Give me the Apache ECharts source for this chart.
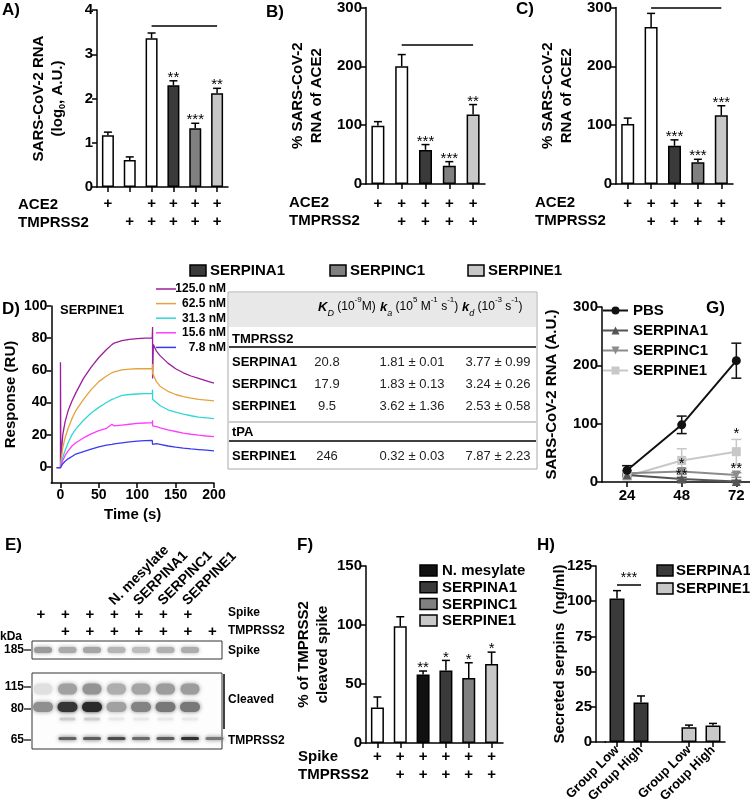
<!DOCTYPE html>
<html>
<head>
<meta charset="utf-8">
<script src="https://cdn.jsdelivr.net/npm/echarts@6/dist/echarts.min.js"></script>
<style>
html, body { margin: 0; background: #fff; }
#chart { width: 750px; height: 812px; }
</style>
</head>
<body>
<div id="chart"></div>
<script>
const FONT = '"Liberation Sans", Arial, Helvetica, sans-serif'
const W = '#ffffff', DARK = '#3a3a3a', MID = '#808080', LIGHT = '#c8c8c8', BLACK = '#111111'

// ---- A) log RNA ----
const aVal = [1.17, 0.61, 3.36, 2.3, 1.33, 2.12]
const aErr = [0.07, 0.07, 0.12, 0.1, 0.11, 0.11]
const aStars = ['', '', '', '**', '***', '**']
const aAce2 = ['+', '', '+', '+', '+', '+']
const aTmprss2 = ['', '+', '+', '+', '+', '+']
const aBracket = [2, 5, 3.64]

// ---- B) % of ACE2 ----
const bVal = [99, 200, 58, 31, 118]
const bErr = [7, 20, 9, 7, 17]
const bStars = ['', '', '***', '***', '**']
const bAce2 = ['+', '+', '+', '+', '+']
const bTmprss2 = ['', '+', '+', '+', '+']
const bBracket = [1, 4, 237]

// ---- C) % of ACE2 ----
const cVal = [102, 267, 65, 37, 117]
const cErr = [10, 23, 10, 5, 16]
const cStars = ['', '', '***', '***', '***']
const cAce2 = ['+', '+', '+', '+', '+']
const cTmprss2 = ['', '+', '+', '+', '+']
const cBracket = [1, 4, 300]

// ---- D) SPR sensorgram, SERPINE1 on TMPRSS2 ----
const dNames = ['125.0 nM', '62.5 nM', '31.3 nM', '15.6 nM', '7.8 nM']
const dColors = ['#9b1f9b', '#e3a43a', '#33d6d6', '#ff3cff', '#3a3af0']
const dTime = [-5, 0, 0, 0.5, 3, 6, 10, 15, 20, 30, 40, 50, 60, 67, 70, 80, 90, 100, 110, 119.5, 120, 120, 121, 125, 130, 140, 150, 160, 170, 180, 190, 200]
const d125 = [-0.5, -0.5, 65, 5, 20, 28, 35, 41, 46, 55, 62, 68, 73, 76, 77, 78.5, 79.3, 79.7, 80, 80, 87, 55, 76, 72, 69, 64.5, 61, 58.5, 56.5, 55, 53.5, 52]
const d62 = [-0.5, -0.5, 0, 3, 12, 18, 24, 30, 35, 42, 48, 53, 56.5, 58.5, 59, 60.3, 60.8, 61, 61, 61, 64, 58, 57, 53, 50, 47, 45, 43.7, 42.8, 42, 41.5, 41]
const d31 = [-0.5, -0.5, 0, 1.5, 6, 10, 15, 20, 23.5, 29, 33.5, 37, 40, 42, 42.5, 44.5, 45, 45.3, 45.5, 45.5, 48, 42, 43, 40, 38, 35.5, 34, 32.8, 31.8, 31, 30.5, 30]
const d15 = [-0.5, -0.5, 0, 1, 4, 7, 10, 13, 15, 18, 20.5, 22.5, 24, 26.5, 25.5, 26, 26.5, 27, 27.3, 27.5, 29, 25.5, 26, 25, 24.3, 23, 22, 21, 20.3, 19.7, 19.2, 18.8]
const d7 = [-0.5, -0.5, 0, 0.5, 2, 3.5, 5, 6.5, 8, 9.5, 11, 12.5, 13.5, 14, 14.3, 15, 15.5, 16, 16.3, 16.5, 17.5, 14, 15, 14.5, 14, 13, 12.3, 11.7, 11.2, 10.8, 10.4, 10]
const dSeries = [d125, d62, d31, d15, d7]

// ---- D) kinetics table ----
const tblHead = ['{i|K}{s|D} (10{u|-9}M)', '{i|k}{s|a} (10{u|5} M{u|-1} s{u|-1})', '{i|k}{s|d} (10{u|-3} s{u|-1})']
const tblNames = ['SERPINA1', 'SERPINC1', 'SERPINE1', 'SERPINE1']
const tblKD = ['20.8', '17.9', '9.5', '246']
const tblKa = ['1.81 ± 0.01', '1.83 ± 0.13', '3.62 ± 1.36', '0.32 ± 0.03']
const tblKd = ['3.77 ± 0.99', '3.24 ± 0.26', '2.53 ± 0.58', '7.87 ± 2.23']

// ---- E) western blot ----
const eLaneNames = ['', '', '', 'N. mesylate', 'SERPINA1', 'SERPINC1', 'SERPINE1', '']
const eSpike = ['+', '+', '+', '+', '+', '+', '+', '']
const eTmprss2 = ['', '+', '+', '+', '+', '+', '+', '+']
const eBandSpike = [0.45, 0.38, 0.4, 0.33, 0.3, 0.35, 0.37, 0]
const eBand115 = [0.14, 0.42, 0.48, 0.36, 0.4, 0.44, 0.44, 0]
const eBand80 = [0.5, 0.9, 0.95, 0.42, 0.55, 0.6, 0.6, 0]
const eBand75 = [0, 0.22, 0.22, 0.1, 0.1, 0.1, 0.1, 0]
const eBand65 = [0, 0.7, 0.72, 0.8, 0.66, 0.72, 0.92, 0.6]

// ---- F) cleaved spike ----
const fVal = [30, 99, 58, 61.5, 55, 67]
const fErr = [9, 8, 3, 8.5, 13, 10]
const fStars = ['', '', '**', '*', '*', '*']
const fSpike = ['+', '+', '+', '+', '+', '+']
const fTmprss2 = ['', '+', '+', '+', '+', '+']
const fLegend = ['N. mesylate', 'SERPINA1', 'SERPINC1', 'SERPINE1']

// ---- G) time course ----
const gHours = [24, 48, 72]
const gNames = ['PBS', 'SERPINA1', 'SERPINC1', 'SERPINE1']
const gPBS = [20, 98, 208]
const gA1 = [12, 5, 1]
const gC1 = [15, 18, 12]
const gE1 = [10, 37, 52]
const gErrPBS = [8, 15, 30]
const gErrA1 = [3, 3, 2]
const gErrC1 = [4, 5, 4]
const gErrE1 = [5, 20, 21]
const gStarX = [48, 48, 72, 72]
const gStarY = [31, 12, 82, 22]
const gStarTxt = ['*', '**', '*', '**']

// ---- H) secreted serpins ----
const hCats = ['Group Low', 'Group High', '', 'Group Low', 'Group High']
const hVal = [102, 28, null, 10.5, 11.7]
const hErr = [5.5, 4.7, null, 1.5, 1.5]
const hLegend = ['SERPINA1', 'SERPINE1']
const hBracket = [0, 1, 111.5]

const chart = echarts.init(document.getElementById('chart'))
const grid = [], xAxis = [], yAxis = [], series = [], graphic = []

const axisLine = { show: true, onZero: false, lineStyle: { color: '#000', width: 1.5 } }
const axisTick = { show: true, length: 5, lineStyle: { color: '#000', width: 1.5 } }
const boldLabel = { color: '#000', fontFamily: FONT, fontWeight: 'bold', fontSize: 15 }
const nameStyle = { color: '#000', fontFamily: FONT, fontWeight: 'bold', fontSize: 15, lineHeight: 19 }

function text(x, y, t, opt) {
  graphic.push({ type: 'text', x, y, silent: true,
    style: Object.assign({ text: t, font: 'bold 15px ' + FONT, fill: '#000', verticalAlign: 'middle' }, opt || {}) })
}
function line(x1, y1, x2, y2, color, w) {
  graphic.push({ type: 'line', silent: true, shape: { x1, y1, x2, y2 }, style: { stroke: color || '#000', lineWidth: w || 1.5 } })
}
function box(x, y, w, h, fill) {
  graphic.push({ type: 'rect', silent: true, shape: { x, y, width: w, height: h }, style: { fill, stroke: '#000', lineWidth: 1.5 } })
}

function errSeries(k, xs, val, err, opt) {
  opt = opt || {}
  const data = []
  val.forEach((v, i) => { if (v != null) data.push([xs[i], v, err[i], i]) })
  return {
    type: 'custom', xAxisIndex: k, yAxisIndex: k, z: 4, silent: true, data,
    renderItem(params, api) {
      const x = api.value(0), v = api.value(1), e = api.value(2), i = api.value(3)
      const hi = api.coord([x, v + e])
      const lo = api.coord([x, opt.both ? v - e : v])
      const c = opt.cap || 4
      const st = { stroke: opt.color || '#000', lineWidth: 1.5 }
      const kids = [
        { type: 'line', shape: { x1: hi[0], y1: hi[1], x2: lo[0], y2: lo[1] }, style: st },
        { type: 'line', shape: { x1: hi[0] - c, y1: hi[1], x2: hi[0] + c, y2: hi[1] }, style: st }
      ]
      if (opt.both) kids.push({ type: 'line', shape: { x1: lo[0] - c, y1: lo[1], x2: lo[0] + c, y2: lo[1] }, style: st })
      const s = opt.stars && opt.stars[i]
      if (s) kids.push({ type: 'text', style: { text: s, x: hi[0], y: hi[1] - 3, align: 'center', verticalAlign: 'middle', font: '15px ' + FONT, fill: '#000' } })
      return { type: 'group', children: kids }
    }
  }
}

function bracket(b, label) {
  return {
    silent: true, symbol: ['none', 'none'], animation: false,
    lineStyle: { color: '#000', width: 1.5, type: 'solid' },
    label: label ? { show: true, position: 'insideMiddleTop', distance: 0, formatter: label, color: '#000', fontSize: 14, fontFamily: FONT } : { show: false },
    emphasis: { disabled: true },
    data: [[{ coord: [b[0], b[2]] }, { coord: [b[1], b[2]] }]]
  }
}

// bar panel with +/- rows underneath
function barPanel(o) {
  const k = grid.length
  grid.push({ left: o.left, top: o.top, width: o.width, height: o.height })
  const cats = o.cats || o.val.map((_, i) => String(i))
  xAxis.push({
    type: 'category', gridIndex: k, data: cats, axisLine,
    axisTick: Object.assign({ alignWithLabel: true, interval: o.tickInterval || 0 }, axisTick),
    axisLabel: Object.assign({ interval: 0, margin: o.margin, lineHeight: 18, rotate: o.rotate || 0 }, boldLabel, o.labelStyle || {},
      o.rows ? { formatter: (v, i) => o.rows.map(r => r[i] || ' ').join('\n') } : {})
  })
  yAxis.push({
    type: 'value', gridIndex: k, min: 0, max: o.max, interval: o.interval, offset: o.yOffset || 0,
    name: o.name, nameLocation: 'middle', nameGap: o.nameGap, nameRotate: 90, nameMoveOverlap: false,
    nameTextStyle: Object.assign({}, nameStyle, o.nameRich ? { rich: o.nameRich } : {}),
    axisLine, axisTick, splitLine: { show: false },
    axisLabel: Object.assign({ margin: 4 }, boldLabel)
  })
  series.push({
    type: 'bar', xAxisIndex: k, yAxisIndex: k, barWidth: o.barWidth || 13, silent: true,
    data: o.val.map((v, i) => ({ value: v == null ? '-' : v, itemStyle: { color: o.fills[i] } })),
    itemStyle: { borderColor: '#000', borderWidth: 1.5 },
    markLine: o.bracket ? bracket(o.bracket, o.bracketLabel) : undefined
  })
  series.push(errSeries(k, o.val.map((_, i) => i), o.val, o.err, { stars: o.stars }))
}

// ---------- A ----------
barPanel({ left: 97, top: 10, width: 131, height: 177, max: 4, interval: 1,
  val: aVal, err: aErr, stars: aStars, fills: [W, W, W, DARK, MID, LIGHT],
  rows: [aAce2, aTmprss2], margin: 8, barWidth: 12, bracket: aBracket,
  name: 'SARS-CoV-2 RNA\n(log{s|0}, A.U.)', nameGap: 30,
  nameRich: { s: { fontSize: 9, fontWeight: 'bold', fontFamily: FONT, color: '#000', verticalAlign: 'bottom', lineHeight: 14 } } })
text(2, 10, 'A)', { font: 'bold 17px ' + FONT })
text(18, 205, 'ACE2'); text(18, 223, 'TMPRSS2')

// ---------- B ----------
barPanel({ left: 366, top: 7, width: 119, height: 177, max: 300, interval: 100,
  val: bVal, err: bErr, stars: bStars, fills: [W, W, DARK, MID, LIGHT],
  rows: [bAce2, bTmprss2], margin: 11, bracket: bBracket,
  name: '% SARS-CoV-2\nRNA of ACE2', nameGap: 40 })
text(266, 12, 'B)', { font: 'bold 17px ' + FONT })
text(289, 203, 'ACE2'); text(289, 221, 'TMPRSS2')

// ---------- C ----------
barPanel({ left: 616, top: 7, width: 117, height: 177, max: 300, interval: 100,
  val: cVal, err: cErr, stars: cStars, fills: [W, W, DARK, MID, LIGHT],
  rows: [cAce2, cTmprss2], margin: 11, bracket: cBracket,
  name: '% SARS-CoV-2\nRNA of ACE2', nameGap: 40 })
text(516, 9, 'C)', { font: 'bold 17px ' + FONT })
text(535, 203, 'ACE2'); text(535, 221, 'TMPRSS2')

// shared legend for A-C
;[['SERPINA1', DARK, 190], ['SERPINC1', MID, 330], ['SERPINE1', LIGHT, 468]].forEach(([n, c, x]) => {
  box(x, 265, 16, 11, c); text(x + 20, 271, n)
})

// ---------- D ----------
const kD = grid.length
grid.push({ left: 42, top: 306, width: 172, height: 177 })
xAxis.push({ type: 'value', gridIndex: kD, min: -12, max: 200, axisLine,
  axisTick: Object.assign({ customValues: [0, 50, 100, 150, 200] }, axisTick),
  axisLabel: Object.assign({ customValues: [0, 50, 100, 150, 200], margin: 5 }, boldLabel, { fontSize: 14 }),
  splitLine: { show: false },
  name: 'Time (s)', nameLocation: 'middle', nameGap: 22, nameTextStyle: nameStyle })
yAxis.push({ type: 'value', gridIndex: kD, min: -10, max: 100, axisLine,
  axisTick: Object.assign({ customValues: [0, 20, 40, 60, 80, 100] }, axisTick),
  axisLabel: Object.assign({ customValues: [0, 20, 40, 60, 80, 100], margin: 4 }, boldLabel, { fontSize: 14 }),
  splitLine: { show: false },
  name: 'Response (RU)', nameLocation: 'middle', nameGap: 24, nameRotate: 90, nameTextStyle: nameStyle })
dSeries.forEach((vals, s) => {
  series.push({ type: 'line', name: dNames[s], xAxisIndex: kD, yAxisIndex: kD, symbol: 'none', silent: true,
    color: dColors[s], lineStyle: { width: 1.3, color: dColors[s] },
    data: dTime.map((t, i) => [t, vals[i]]) })
})
text(2, 309, 'D)', { font: 'bold 17px ' + FONT })
text(60, 310, 'SERPINE1', { font: 'bold 13px ' + FONT })
const dLegend = { data: dNames, orient: 'vertical', left: 151, top: 278, itemWidth: 20, itemHeight: 8, itemGap: 2.6,
  itemTextGap: 3, selectedMode: false, formatter: '{r|{name}}', icon: 'path://M0,0 L40,0 L40,3 L0,3 Z',
  textStyle: { rich: { r: { width: 45, align: 'right', fontSize: 12, fontWeight: 'bold', fontFamily: FONT, color: '#000', lineHeight: 12 } } } }

// table
const tx0 = 228, tx1 = 537
graphic.push({ type: 'rect', silent: true, shape: { x: tx0, y: 292, width: tx1 - tx0, height: 177 }, style: { fill: '#fff', stroke: '#aaa', lineWidth: 1 } })
graphic.push({ type: 'rect', silent: true, shape: { x: tx0 + 1, y: 293, width: tx1 - tx0 - 2, height: 34 }, style: { fill: '#e8e8e8' } })
const tblRich = {
  i: { fontStyle: 'italic', fontWeight: 'bold', fontSize: 13, fontFamily: FONT, lineHeight: 18 },
  s: { fontStyle: 'italic', fontSize: 9, fontFamily: FONT, verticalAlign: 'bottom', lineHeight: 14 },
  u: { fontSize: 8, fontFamily: FONT, verticalAlign: 'top', lineHeight: 22 }
}
;[318, 380, 462].forEach((x, i) => text(x, 307, tblHead[i], { font: '12px ' + FONT, rich: tblRich }))
text(232, 339, 'TMPRSS2', { font: 'bold 13px ' + FONT })
line(tx0 + 1, 347, tx1 - 1, 347, '#000', 1.5)
line(tx0 + 1, 422, tx1 - 1, 422, '#999', 1.2)
text(232, 432, 'tPA', { font: 'bold 13px ' + FONT })
line(tx0 + 1, 441, tx1 - 1, 441, '#000', 1.5)
;[362, 384, 406, 456].forEach((y, r) => {
  text(232, y, tblNames[r], { font: 'bold 13px ' + FONT })
  text(327, y, tblKD[r], { font: '13px ' + FONT, align: 'center', fill: '#222' })
  text(412, y, tblKa[r], { font: '13px ' + FONT, align: 'center', fill: '#222' })
  text(498, y, tblKd[r], { font: '13px ' + FONT, align: 'center', fill: '#222' })
})

// ---------- G ----------
const kG = grid.length
grid.push({ left: 602, top: 307, width: 148, height: 175 })
xAxis.push({ type: 'value', gridIndex: kG, min: 13, max: 78, axisLine,
  axisTick: Object.assign({ customValues: gHours }, axisTick),
  axisLabel: Object.assign({ customValues: gHours, margin: 6 }, boldLabel), splitLine: { show: false } })
yAxis.push({ type: 'value', gridIndex: kG, min: 0, max: 300, interval: 100, axisLine, axisTick,
  axisLabel: Object.assign({ margin: 4 }, boldLabel), splitLine: { show: false },
  name: 'SARS-CoV-2 RNA (A.U.)', nameLocation: 'middle', nameGap: 41, nameRotate: 90, nameTextStyle: nameStyle })
const gDef = [
  [gPBS, gErrPBS, '#111111', 'circle'],
  [gA1, gErrA1, '#555555', 'triangle'],
  [gC1, gErrC1, '#8c8c8c', 'path://M0,0 L10,0 L5,9 Z'],
  [gE1, gErrE1, '#c8c8c8', 'rect']
]
gDef.slice().reverse().forEach(([vals, err, c, sym], r) => {
  const s = gDef.length - 1 - r
  series.push(errSeries(kG, gHours, vals, err, { both: true, color: c, cap: 5 }))
  series.push({ type: 'line', name: gNames[s], xAxisIndex: kG, yAxisIndex: kG, symbol: sym, symbolSize: 9,
    silent: true, color: c, itemStyle: { color: c }, lineStyle: { color: c, width: 2 }, z: 5,
    data: gHours.map((h, i) => [h, vals[i]]) })
})
series.push({ type: 'custom', xAxisIndex: kG, yAxisIndex: kG, silent: true, z: 6,
  data: gStarX.map((x, i) => [x, gStarY[i], i]),
  renderItem(params, api) {
    const p = api.coord([api.value(0), api.value(1)])
    return { type: 'text', style: { text: gStarTxt[api.value(2)], x: p[0], y: p[1], align: 'center', verticalAlign: 'middle', font: '15px ' + FONT, fill: '#000' } }
  } })
text(706, 308, 'G)', { font: 'bold 17px ' + FONT })
const gLegend = { data: gNames, orient: 'vertical', left: 597, top: 298, itemWidth: 25, itemHeight: 10, itemGap: 5,
  itemTextGap: 9, selectedMode: false, textStyle: { fontSize: 15, fontWeight: 'bold', fontFamily: FONT, color: '#000' } }

// ---------- E (blot) ----------
text(5, 545, 'E)', { font: 'bold 17px ' + FONT })
const laneX = i => 41 + i * 24.5
eLaneNames.forEach((n, i) => {
  if (n) graphic.push({ type: 'text', x: laneX(i) + 2, y: 608, rotation: Math.PI / 4, silent: true,
    style: { text: n, font: 'bold 14px ' + FONT, fill: '#000', align: 'left', verticalAlign: 'bottom' } })
  text(laneX(i), 615, eSpike[i], { align: 'center' })
  text(laneX(i), 632, eTmprss2[i], { align: 'center' })
})
text(228, 613, 'Spike', { font: 'bold 12px ' + FONT })
text(228, 631, 'TMPRSS2', { font: 'bold 12px ' + FONT })
text(0, 637, 'kDa', { font: 'bold 12px ' + FONT })
graphic.push({ type: 'rect', silent: true, shape: { x: 32, y: 641, width: 190, height: 18 }, style: { fill: '#fff', stroke: '#333', lineWidth: 1 } })
graphic.push({ type: 'rect', silent: true, shape: { x: 32, y: 673, width: 190, height: 76 }, style: { fill: '#fdfdfd', stroke: '#333', lineWidth: 1 } })
function bands(arr, yc, h, w) {
  arr.forEach((v, i) => {
    if (!v) return
    const g = Math.round(255 - v * 225)
    const c = 'rgb(' + g + ',' + g + ',' + g + ')'
    graphic.push({ type: 'rect', silent: true, shape: { x: laneX(i) - w / 2 + 2, y: yc - h / 2, width: w, height: h, r: h / 2 },
      style: { fill: c, shadowBlur: 4, shadowColor: c } })
  })
}
bands(eBandSpike, 650, 6, 18)
bands(eBand115, 689, 11, 19)
bands(eBand80, 707, 10, 20)
bands(eBand75, 719, 3, 16)
bands(eBand65, 738.5, 3, 18)
;[['185', 650], ['115', 687], ['80', 709], ['65', 740]].forEach(([t, y]) => {
  text(24, y, t, { font: 'bold 12px ' + FONT, align: 'right' }); line(24, y, 31, y, '#000', 1.2)
})
text(228, 651, 'Spike', { font: 'bold 12px ' + FONT })
text(228, 700, 'Cleaved', { font: 'bold 12px ' + FONT })
line(224, 674, 224, 729, '#000', 1.5)
text(228, 741, 'TMPRSS2', { font: 'bold 12px ' + FONT })

// ---------- F ----------
barPanel({ left: 366, top: 566, width: 137, height: 177, max: 150, interval: 50,
  val: fVal, err: fErr, stars: fStars, fills: [W, W, BLACK, DARK, MID, LIGHT],
  rows: [fSpike, fTmprss2], margin: 5,
  name: '% of TMPRSS2\ncleaved spike', nameGap: 34 })
text(297, 545, 'F)', { font: 'bold 17px ' + FONT })
text(298, 757, 'Spike'); text(298, 775, 'TMPRSS2')
;[BLACK, DARK, MID, LIGHT].forEach((c, i) => { box(420, 565 + i * 16.7, 17, 11, c); text(442, 571 + i * 16.7, fLegend[i]) })

// ---------- H ----------
barPanel({ left: 605, top: 566, width: 120, height: 176, max: 125, interval: 25, yOffset: 9,
  cats: hCats, val: hVal, err: hErr, stars: [], fills: [DARK, DARK, W, LIGHT, LIGHT],
  tickInterval: i => hCats[i] !== '', rotate: 45, margin: 6, barWidth: 15,
  labelStyle: { fontSize: 13, lineHeight: 14 },
  bracket: hBracket, bracketLabel: '***',
  name: 'Secreted serpins  (ng/ml)', nameGap: 27 })
line(596, 742, 606, 742, '#000', 1.5)
text(537, 545, 'H)', { font: 'bold 17px ' + FONT })
;[DARK, LIGHT].forEach((c, i) => { box(657, 565 + i * 18, 16, 11, c); text(676, 571 + i * 18, hLegend[i]) })

chart.setOption({
  animation: false,
  textStyle: { fontFamily: FONT },
  grid, xAxis, yAxis, series,
  legend: [dLegend, gLegend],
  graphic
})
</script>
</body>
</html>
